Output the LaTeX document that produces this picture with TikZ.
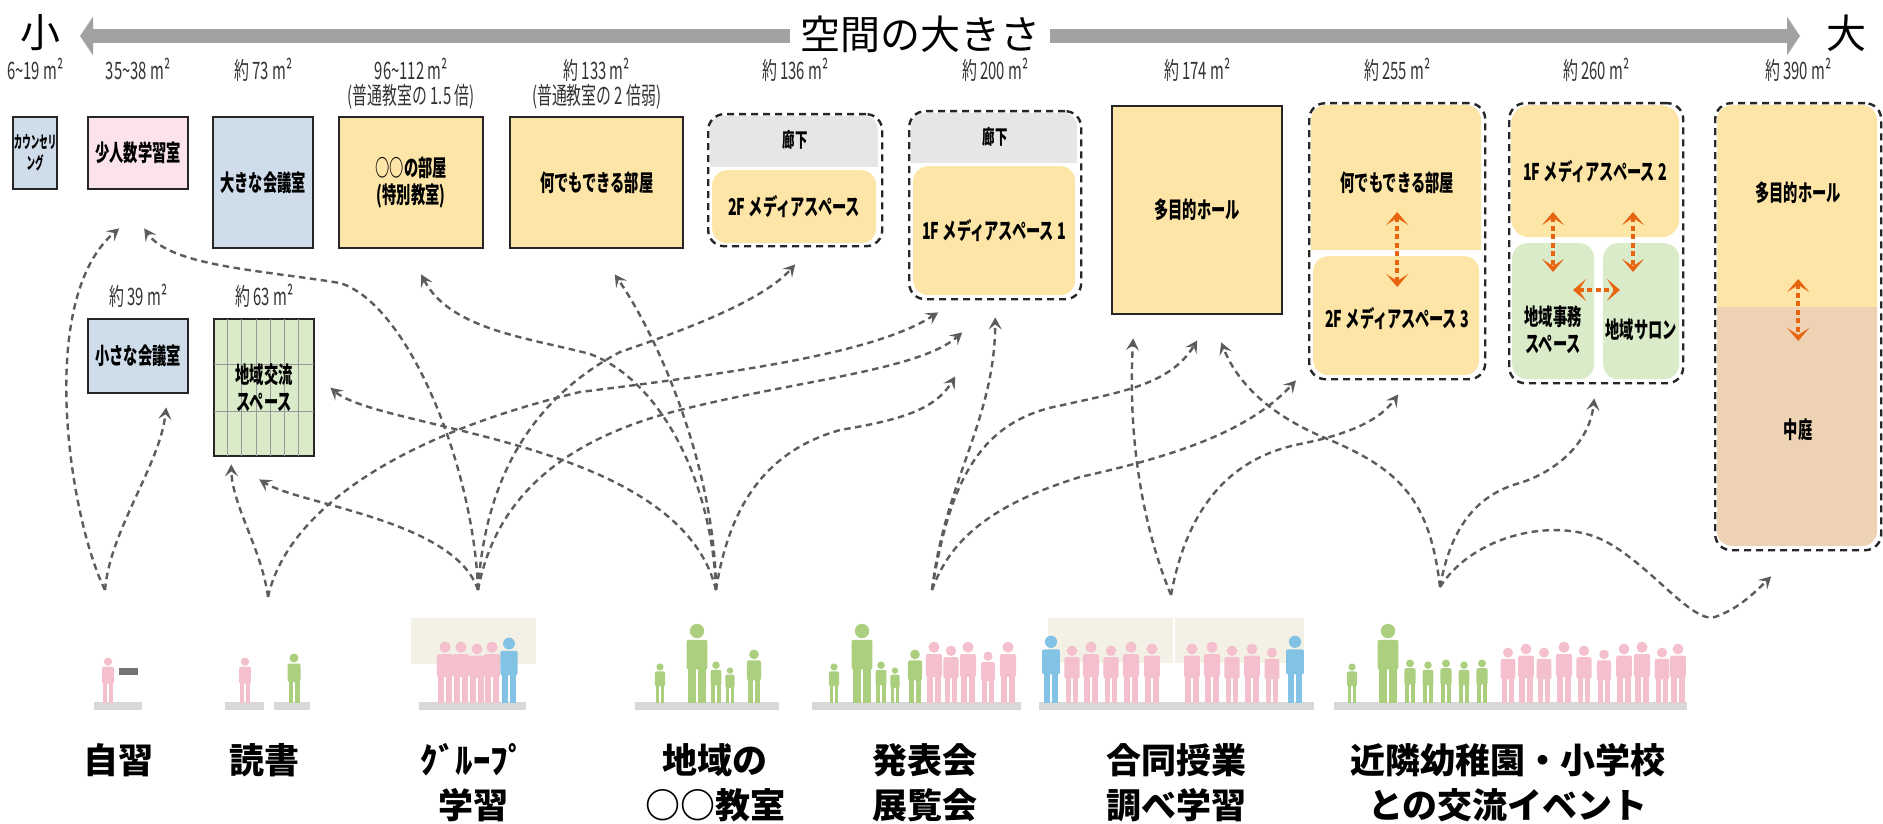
\documentclass[tikz,border=0pt]{standalone}
\usepackage{fontspec}
\setmainfont{Noto Sans CJK JP}
\newfontfamily\narrowjp{Noto Sans CJK JP}[FakeStretch=0.62]
\newfontfamily\slimjp{Noto Sans CJK JP}[FakeStretch=0.5]
\usetikzlibrary{arrows.meta,positioning,calc}

\definecolor{roomblue}{HTML}{CFDCEA}
\definecolor{roompink}{HTML}{FBE3E9}
\definecolor{roomyellow}{HTML}{FDE4A7}
\definecolor{roomgreen}{HTML}{DAEBCA}
\definecolor{corridor}{HTML}{E6E6E6}
\definecolor{courtyard}{HTML}{EDD3B4}
\definecolor{linkgrey}{HTML}{5C5C5C}
\definecolor{linkorange}{HTML}{E8650F}
\definecolor{bandgrey}{HTML}{A2A2A2}
\definecolor{kidpink}{HTML}{F4C0CD}
\definecolor{kidgreen}{HTML}{ABCF7E}
\definecolor{kidblue}{HTML}{82C2E4}
\definecolor{floorgrey}{HTML}{D8D8D8}
\definecolor{backbeige}{HTML}{F3F0E6}

% silhouette: x, floor y, height, colour
\newcommand{\Person}[4]{%
  \begin{scope}[shift={(#1,#2)},scale=#3]
    \fill[#4] (0,-0.9) circle[radius=0.09];
    \fill[#4,rounded corners=2pt] (-0.13,-0.79) rectangle (0.13,-0.42);
    \fill[#4] (-0.11,-0.46) rectangle (-0.015,0);
    \fill[#4] (0.015,-0.46) rectangle (0.11,0);
  \end{scope}}

\tikzset{
  room/.style={draw=black!85,line width=2.4pt,anchor=north west,inner sep=0pt,
    align=center,font=\narrowjp\bfseries\fontsize{23}{27}\selectfont},
  zone/.style={draw=black!85,line width=2.4pt,dash pattern=on 7pt off 5pt,
    rounded corners=16pt,anchor=north west,inner sep=0pt},
  part/.style={anchor=north west,inner sep=0pt,rounded corners=15pt,align=center,
    font=\narrowjp\bfseries\fontsize{23}{27}\selectfont},
  partlbl/.style={inner sep=0pt,align=center,
    font=\narrowjp\bfseries\fontsize{23}{27}\selectfont},
  sizelbl/.style={anchor=north,inner sep=0pt,align=center,text=black!80,
    font=\narrowjp\fontsize{24}{25}\selectfont},
  actlbl/.style={anchor=north,inner sep=0pt,align=center,
    font=\bfseries\fontsize{35}{45}\selectfont},
  link/.style={draw=linkgrey,line width=2.4pt,dash pattern=on 6.5pt off 4.5pt,
    -{Stealth[length=12pt,width=13pt,inset=5pt]}},
  twoway/.style={draw=linkorange,line width=3.5pt,dash pattern=on 5pt off 3.5pt,
    {Stealth[length=13pt,width=22pt,inset=7pt]}-{Stealth[length=13pt,width=22pt,inset=7pt]}},
  floorbar/.style={fill=floorgrey},
  gridline/.style={draw=black!40,line width=0.7pt}
}

\begin{document}
\begin{tikzpicture}[x=1pt,y=-1pt]
\useasboundingbox (0,0) rectangle (1883,824);

% scale of sizes
\node[font=\fontsize{40}{44}\selectfont,inner sep=0pt] (small) at (40,33) {小};
\node[font=\fontsize{40}{44}\selectfont,inner sep=0pt] (large) at (1846,33) {大};
\draw[draw=bandgrey,line width=14pt,shorten <=40pt,shorten >=46pt,
  {Triangle[length=13pt,width=38pt]}-{Triangle[length=13pt,width=38pt]}]
  (small.center |- 0,36) -- (large.center |- 0,36);
\node[fill=white,inner xsep=10pt,inner ysep=2pt,font=\fontsize{40}{44}\selectfont]
  (title) at (920,34) {空間の大きさ};

% single rooms
\node[room,fill=roomblue,minimum width=44pt,minimum height=72pt,
  font=\slimjp\bfseries\fontsize{17}{21}\selectfont] (counsel) at (12,116) {カウンセリ\\ング};
\node[room,fill=roompink,minimum width=100pt,minimum height=72pt] (study) at (87,116) {少人数学習室};
\node[room,fill=roomblue,minimum width=100pt,minimum height=131pt] (bigmeet) at (212,116) {大きな会議室};
\node[room,fill=roomyellow,minimum width=144pt,minimum height=131pt] (special) at (338,116) {○○の部屋\\(特別教室)};
\node[room,fill=roomyellow,minimum width=173pt,minimum height=131pt] (anyroom) at (509,116) {何でもできる部屋};
\node[room,fill=roomblue,minimum width=100pt,minimum height=74pt] (smallmeet) at (87,318) {小さな会議室};
\node[room,fill=roomgreen,minimum width=100pt,minimum height=137pt] (exchange) at (213,318) {};
\foreach \i in {1,...,6}
  \draw[gridline] ($(exchange.north west)+(\i*100/7,1.2)$) -- ($(exchange.south west)+(\i*100/7,-1.2)$);
\foreach \f in {1,2}
  \draw[gridline] ($(exchange.north west)!\f/3!(exchange.south west)+(1.2,0)$)
    -- ($(exchange.north east)!\f/3!(exchange.south east)+(-1.2,0)$);
\node[partlbl] at (exchange.center) {地域交流\\スペース};
\node[room,fill=roomyellow,minimum width=170pt,minimum height=208pt] (hall) at (1111,105) {多目的ホール};

% media space 2F
\begin{scope}
  \clip (710,116) rectangle (878,167);
  \fill[corridor,rounded corners=13pt] (710,116) rectangle (878,200);
\end{scope}
\node[part,fill=roomyellow,minimum width=164pt,minimum height=73pt] (media2f) at (712,170) {2F メディアスペース};
\node[zone,minimum width=174pt,minimum height=132pt] (med2f) at (707,113) {};
\node[partlbl,font=\narrowjp\bfseries\fontsize{20}{24}\selectfont] at (med2f.north |- 0,140) {廊下};

% media space 1F-1
\begin{scope}
  \clip (911,113) rectangle (1077,163);
  \fill[corridor,rounded corners=13pt] (911,113) rectangle (1077,200);
\end{scope}
\node[part,fill=roomyellow,minimum width=162pt,minimum height=129pt] (media1f) at (913,166) {1F メディアスペース 1};
\node[zone,minimum width=172pt,minimum height=188pt] (med1f) at (908,110) {};
\node[partlbl,font=\narrowjp\bfseries\fontsize{20}{24}\selectfont] at (med1f.north |- 0,137) {廊下};

% multipurpose room + media space 2F-3
\begin{scope}
  \clip (1308,102) rectangle (1484,249);
  \fill[roomyellow,rounded corners=15pt] (1311,105) rectangle (1481,290);
\end{scope}
\node[part,fill=roomyellow,minimum width=166pt,minimum height=119pt] (media2f3) at (1313,256) {};
\node[zone,minimum width=176pt,minimum height=276pt] (anyzone) at (1308,102) {};
\node[partlbl] at (anyzone.north |- 0,183) {何でもできる部屋};
\node[partlbl] at (anyzone.north |- 0,318) {2F メディアスペース 3};
\draw[twoway] (anyzone.north |- 0,212) -- (anyzone.north |- 0,287);

% media space 1F-2 + community spaces
\node[part,fill=roomyellow,rounded corners=18pt,minimum width=168pt,minimum height=132pt] (media1f2) at (1511,105) {1F メディアスペース 2};
\node[part,fill=roomgreen,minimum width=82pt,minimum height=136pt] (office) at (1512,243) {};
\node[part,fill=roomgreen,minimum width=76pt,minimum height=136pt] (salon) at (1603,243) {};
\node[zone,minimum width=174pt,minimum height=280pt] (localzone) at (1508,102) {};
\node[partlbl] at (office.north |- 0,330) {地域事務\\スペース};
\node[partlbl] at (salon.north |- 0,330) {地域サロン};
\draw[twoway] (1553,212) -- (1553,272);
\draw[twoway] (1633,212) -- (1633,272);
\draw[twoway] (1573,290) -- (1620,290);

% hall + courtyard
\begin{scope}
  \clip (1714,102) rectangle (1880,307);
  \fill[roomyellow,rounded corners=15pt] (1717,105) rectangle (1877,400);
\end{scope}
\begin{scope}
  \clip (1714,307) rectangle (1880,549);
  \fill[courtyard,rounded corners=15pt] (1717,250) rectangle (1877,546);
\end{scope}
\node[zone,minimum width=166pt,minimum height=447pt] (hallzone) at (1714,102) {};
\node[partlbl] at (hallzone.north |- 0,193) {多目的ホール};
\node[partlbl] at (hallzone.north |- 0,430) {中庭};
\draw[twoway] (hallzone.north |- 0,279) -- (hallzone.north |- 0,341);

% floor areas
\coordinate (sizerow) at (0,58);
\coordinate (sizerow2) at (0,284);
\node[sizelbl] at (counsel.north |- sizerow) {6\textasciitilde19 m²};
\node[sizelbl] at (study.north |- sizerow) {35\textasciitilde38 m²};
\node[sizelbl] at (bigmeet.north |- sizerow) {約 73 m²};
\node[sizelbl] at (special.north |- sizerow) {96\textasciitilde112 m²\\(普通教室の 1.5 倍)};
\node[sizelbl] at (anyroom.north |- sizerow) {約 133 m²\\(普通教室の 2 倍弱)};
\node[sizelbl] at (med2f.north |- sizerow) {約 136 m²};
\node[sizelbl] at (med1f.north |- sizerow) {約 200 m²};
\node[sizelbl] at (hall.north |- sizerow) {約 174 m²};
\node[sizelbl] at (anyzone.north |- sizerow) {約 255 m²};
\node[sizelbl] at (localzone.north |- sizerow) {約 260 m²};
\node[sizelbl] at (hallzone.north |- sizerow) {約 390 m²};
\node[sizelbl] at (smallmeet.north |- sizerow2) {約 39 m²};
\node[sizelbl] at (exchange.north |- sizerow2) {約 63 m²};

% people
\fill[backbeige] (411,618) rectangle (536,664);
\fill[backbeige] (1048,618) rectangle (1304,663);
\draw[white,line width=1.5pt] (1174,618) -- (1174,663);
\foreach \a/\b in {94/142,225/264,274/310,419/526,635/779,812/1021,1039/1314,1334/1687}
  \fill[floorbar] (\a,702) rectangle (\b,710);
\fill[black!55] (119,668) rectangle (138,675);
\foreach \px/\ph/\pc in {
  108/46/kidpink, 245/46/kidpink, 294/50/kidgreen,
  445/62/kidpink, 461/62/kidpink, 477/60/kidpink, 492/62/kidpink, 509/66/kidblue,
  660/40/kidgreen, 697/80/kidgreen, 716/42/kidgreen, 730/36/kidgreen, 754/54/kidgreen,
  834/40/kidgreen, 862/80/kidgreen, 881/42/kidgreen, 895/36/kidgreen, 915/54/kidgreen,
  934/62/kidpink, 951/58/kidpink, 968/62/kidpink, 988/52/kidpink, 1008/62/kidpink,
  1051/68/kidblue, 1072/58/kidpink, 1091/62/kidpink, 1111/58/kidpink, 1131/62/kidpink, 1152/60/kidpink,
  1192/60/kidpink, 1212/62/kidpink, 1232/58/kidpink, 1252/60/kidpink, 1272/56/kidpink, 1295/68/kidblue,
  1352/40/kidgreen, 1388/80/kidgreen, 1410/44/kidgreen, 1428/42/kidgreen, 1446/44/kidgreen, 1464/42/kidgreen, 1482/44/kidgreen,
  1508/56/kidpink, 1526/60/kidpink, 1544/56/kidpink, 1564/62/kidpink, 1584/58/kidpink, 1604/54/kidpink,
  1624/60/kidpink, 1642/62/kidpink, 1662/56/kidpink, 1678/60/kidpink}
  {\Person{\px}{703}{\ph}{\pc}}

% activities
\node[actlbl] (jishu) at (118,743) {自習};
\node[actlbl] (dokusho) at (264,743) {読書};
\node[actlbl] (group) at (473,743) {ｸﾞﾙｰﾌﾟ\\学習};
\node[actlbl] (local) at (715,743) {地域の\\○○教室};
\node[actlbl] (show) at (925,743) {発表会\\展覧会};
\node[actlbl] (joint) at (1176,743) {合同授業\\調べ学習};
\node[actlbl] (event) at (1508,743) {近隣幼稚園・小学校\\との交流イベント};

\coordinate (s-jishu) at (105,590);
\coordinate (s-dokusho) at (268,597);
\coordinate (s-group) at (478,590);
\coordinate (s-local) at (716,590);
\coordinate (s-show) at (932,590);
\coordinate (s-joint) at (1171,595);
\coordinate (s-event) at (1440,587);

\draw[link] (s-jishu) .. controls (70,520) and (35,300) .. ($(study.south)+(-19,38)$);
\draw[link] (s-jishu) .. controls (110,530) and (160,465) .. ($(smallmeet.south)+(28,13)$);
\draw[link] (s-dokusho) .. controls (262,550) and (232,505) .. ($(exchange.south)+(-33,7)$);
\draw[link] (s-dokusho) .. controls (285,520) and (380,440) .. (580,392)
  .. controls (760,370) and (880,350) .. ($(media1f.south)+(-56,17)$);
\draw[link] (s-group) .. controls (474,470) and (410,305) .. (340,283)
  .. controls (260,270) and (170,266) .. ($(study.south)+(6,38)$);
\draw[link] (s-group) .. controls (455,520) and (300,505) .. ($(exchange.south)+(-5,22)$);
\draw[link] (s-group) .. controls (485,480) and (530,400) .. (620,352)
  .. controls (700,325) and (765,298) .. ($(med2f.south)+(0,17)$);
\draw[link] (s-group) .. controls (495,500) and (560,440) .. (680,410)
  .. controls (800,380) and (920,370) .. ($(media1f.south)+(-32,37)$);
\draw[link] (s-local) .. controls (680,440) and (380,430) .. ($(exchange.east)+(15,0)$);
\draw[link] (s-local) .. controls (712,480) and (660,380) .. (590,354)
  .. controls (530,338) and (450,330) .. ($(special.south)+(10,25)$);
\draw[link] (s-local) .. controls (715,470) and (660,340) .. ($(anyroom.south)+(18,25)$);
\draw[link] (s-local) .. controls (730,500) and (770,450) .. (840,430)
  .. controls (900,420) and (935,410) .. ($(media1f.south)+(-39,81)$);
\draw[link] (s-show) .. controls (945,480) and (995,420) .. ($(med1f.south)+(0,17)$);
\draw[link] (s-show) .. controls (950,480) and (980,420) .. (1063,405)
  .. controls (1120,392) and (1170,385) .. ($(hall.south)+(0,25)$);
\draw[link] (s-show) .. controls (950,540) and (990,505) .. (1080,477)
  .. controls (1180,455) and (1250,430) .. ($(anyzone.south west)+(-12,0)$);
\draw[link] (s-joint) .. controls (1140,520) and (1128,430) .. ($(hall.south)+(-64,23)$);
\draw[link] (s-joint) .. controls (1185,520) and (1220,460) .. (1300,444)
  .. controls (1350,434) and (1380,420) .. ($(anyzone.south)+(1,14)$);
\draw[link] (s-event) .. controls (1430,500) and (1400,470) .. (1330,440)
  .. controls (1280,420) and (1240,390) .. ($(hall.south)+(24,27)$);
\draw[link] (s-event) .. controls (1450,530) and (1475,495) .. (1520,483)
  .. controls (1560,470) and (1590,440) .. ($(localzone.south)+(-2,14)$);
\draw[link] (s-event) .. controls (1470,540) and (1540,520) .. (1590,535)
  .. controls (1640,550) and (1690,625) .. (1715,617)
  .. controls (1740,608) and (1755,592) .. ($(hallzone.south)+(-27,25)$);
\end{tikzpicture}
\end{document}
